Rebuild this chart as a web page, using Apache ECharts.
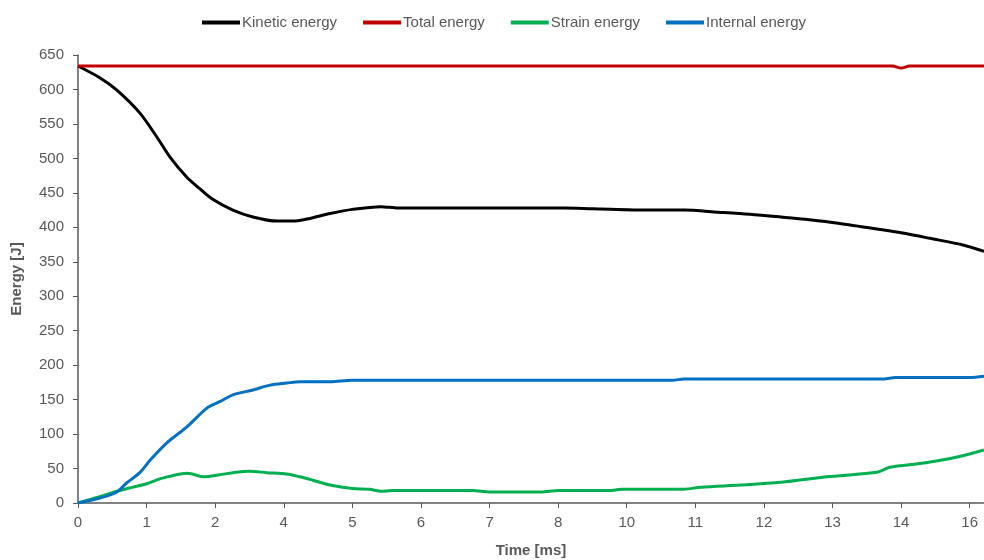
<!DOCTYPE html>
<html>
<head>
<meta charset="utf-8">
<script src="https://cdn.jsdelivr.net/npm/echarts@6/dist/echarts.min.js"></script>
<style>
  html, body { margin: 0; padding: 0; background: #fff; }
  #chart { width: 984px; height: 560px; }
</style>
</head>
<body>
<div id="chart"></div>
<script>
// time ticks (ms) every 1.2, shown rounded like the original
var tickValues = [0, 1.2, 2.4, 3.6, 4.8, 6.0, 7.2, 8.4, 9.6, 10.8, 12.0, 13.2, 14.4, 15.6];
var tickLabels = ['0', '1', '2', '4', '5', '6', '7', '8', '10', '11', '12', '13', '14', '16'];

var kineticT = [0, 0.38, 0.68, 1.08, 1.38, 1.6, 1.9, 2.13, 2.35, 2.71, 3.06, 3.48, 3.77, 4.11, 4.41, 4.8, 5.3, 5.6, 6.5, 7.5, 8.5, 9.0, 10.0, 10.6, 11.2, 11.75, 12.3, 12.8, 13.3, 14.1, 14.4, 14.9, 15.5, 15.85];
var kineticE = [634, 617, 599, 566, 531, 503, 473, 456, 441, 425, 415, 409, 409, 414, 420, 426, 430, 428, 428, 428, 428, 427, 425, 425, 422, 419, 415, 411, 406, 396, 392, 384, 374, 365];

var totalT = [0, 14.25, 14.4, 14.55, 15.85];
var totalE = [634, 634, 631, 634, 634];

var strainT = [0, 0.38, 0.68, 0.96, 1.2, 1.43, 1.67, 1.9, 2.0, 2.2, 2.48, 2.71, 3.0, 3.3, 3.65, 3.88, 4.11, 4.41, 4.8, 5.1, 5.3, 5.5, 6.9, 7.2, 8.1, 8.4, 9.3, 9.5, 10.6, 10.9, 11.6, 12.3, 13.1, 14.0, 14.2, 14.8, 15.4, 15.85];
var strainE = [0, 9, 17, 23, 28, 35, 40, 43, 42, 38, 41, 44, 46, 44, 42, 38, 33, 26, 21, 20, 17, 18, 18, 16, 16, 18, 18, 20, 20, 23, 26, 30, 38, 45, 52, 58, 67, 77];

var internalT = [0, 0.38, 0.68, 0.85, 1.08, 1.26, 1.55, 1.9, 2.26, 2.48, 2.71, 3.06, 3.36, 3.65, 3.88, 4.41, 4.8, 10.4, 10.6, 14.1, 14.3, 15.6, 15.85];
var internalE = [0, 7, 16, 29, 44, 62, 87, 110, 138, 147, 157, 164, 171, 174, 176, 176, 178, 178, 180, 180, 182, 182, 184];

function pairs(t, v) {
    var out = [];
    for (var i = 0; i < t.length; i++) {
        out.push([t[i], v[i]]);
    }
    return out;
}

var chart = echarts.init(document.getElementById('chart'));
var font = "'Liberation Sans', sans-serif";
var grey = '#595959';

function line(name, color, t, v) {
    return {
        name: name,
        type: 'line',
        symbol: 'none',
        smooth: 0.3,
        lineStyle: { color: color, width: 3 },
        itemStyle: { color: color },
        data: pairs(t, v)
    };
}

var option = {
    animation: false,
    textStyle: { fontFamily: font },
    legend: {
        top: 10,
        left: 197,
        icon: 'rect',
        itemWidth: 38,
        itemHeight: 4,
        itemGap: 26,
        textStyle: { color: grey, fontSize: 15, fontFamily: font, padding: [0, 0, 0, -3] },
        data: ['Kinetic energy', 'Total energy', 'Strain energy', 'Internal energy']
    },
    grid: { left: 78, right: 0, top: 55, bottom: 57, outerBoundsMode: 'none', containLabel: false },
    xAxis: {
        type: 'value',
        min: 0,
        max: 15.85,
        name: 'Time [ms]',
        nameLocation: 'middle',
        nameGap: 40,
        nameTextStyle: { color: grey, fontSize: 15, fontWeight: 'bold', fontFamily: font },
        axisLine: { show: true, lineStyle: { color: grey, width: 1.5 } },
        axisTick: { show: true, length: 5, lineStyle: { color: grey }, customValues: tickValues },
        axisLabel: {
            color: grey, fontSize: 15, margin: 12,
            customValues: tickValues,
            formatter: function (v) {
                for (var i = 0; i < tickValues.length; i++) {
                    if (Math.abs(tickValues[i] - v) < 1e-6) return tickLabels[i];
                }
                return '';
            }
        },
        splitLine: { show: false }
    },
    yAxis: {
        type: 'value',
        min: 0,
        max: 650,
        interval: 50,
        name: 'Energy [J]',
        nameLocation: 'middle',
        nameGap: 54,
        nameTextStyle: { color: grey, fontSize: 15, fontWeight: 'bold', fontFamily: font },
        axisLine: { show: true, lineStyle: { color: grey, width: 1.5 } },
        axisTick: { show: true, length: 5, lineStyle: { color: grey } },
        axisLabel: { color: grey, fontSize: 15, margin: 14 },
        splitLine: { show: false }
    },
    series: [
        line('Kinetic energy', '#000000', kineticT, kineticE),
        line('Total energy', '#C00000', totalT, totalE),
        line('Strain energy', '#00B050', strainT, strainE),
        line('Internal energy', '#0070C0', internalT, internalE)
    ]
};

chart.setOption(option);
</script>
</body>
</html>
